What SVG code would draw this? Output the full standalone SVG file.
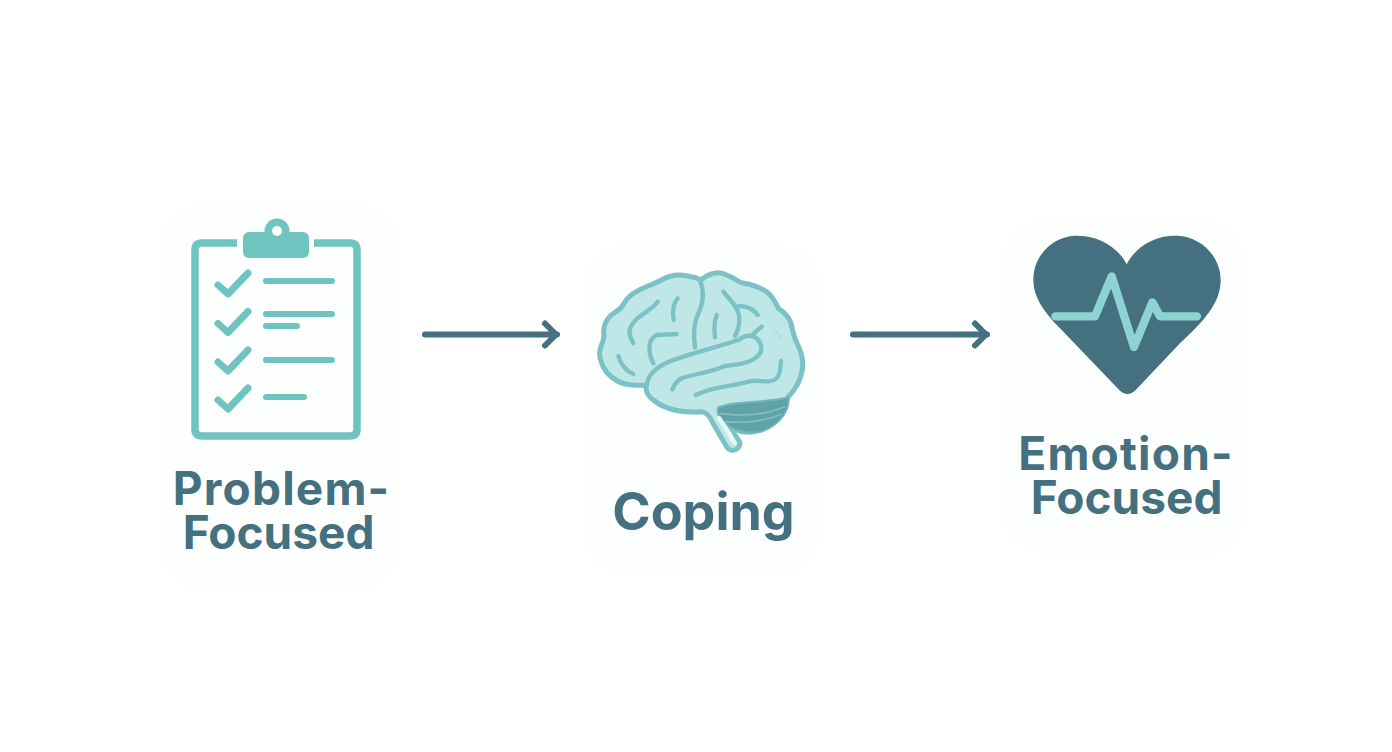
<svg xmlns="http://www.w3.org/2000/svg" width="1392" height="752" viewBox="0 0 1392 752">
<style>
.label{font-family:"Inter","Liberation Sans",sans-serif;font-weight:700;font-size:46px;fill:#44707f;text-anchor:middle}
.wide{letter-spacing:1.200px}
.big{font-size:52px}
.teal{fill:none;stroke:#70c4bf;stroke-linecap:round;stroke-linejoin:round}
.chk{stroke-width:7}
.ln{stroke-width:6}
.conn{stroke:#44707f;stroke-width:6;stroke-linecap:round;fill:none}
.sulcus{fill:none;stroke:#7ac2c6;stroke-width:13;stroke-linecap:round;stroke-linejoin:round}
.halo{fill:#fdfefe}
</style>
<defs>
<marker id="arrow" markerUnits="userSpaceOnUse" markerWidth="24" markerHeight="32" refX="17" refY="16" orient="auto">
<path d="M5,5 L16,16 L5,27" fill="none" stroke="#44707f" stroke-width="6" stroke-linecap="round" stroke-linejoin="round"/>
</marker>
<path id="check" d="M218,285 L228,294 L248,273"/>
</defs>
<rect width="1392" height="752" fill="#fff"/>
<rect class="halo" x="160" y="205" width="240" height="385" rx="40"/>
<rect class="halo" x="585" y="245" width="235" height="330" rx="40"/>
<rect class="halo" x="1005" y="220" width="240" height="335" rx="40"/>
<g id="connectors">
<line class="conn" x1="425" y1="334.500" x2="557" y2="334.500" marker-end="url(#arrow)"/>
<line class="conn" x1="853" y1="334.500" x2="987" y2="334.500" marker-end="url(#arrow)"/>
</g>
<g id="node-problem">
<path d="M237,243 H202 Q195,243 195,250 V429 Q195,436 202,436 H350 Q357,436 357,429 V250 Q357,243 350,243 H314" fill="none" stroke="#70c4bf" stroke-width="7.500" stroke-linecap="butt"/>
<circle cx="277" cy="231" r="12.500" fill="#70c4bf"/>
<rect x="243" y="232" width="66" height="26" rx="6" fill="#70c4bf"/>
<circle cx="277" cy="231" r="5" fill="#fff"/>
<use href="#check" class="teal chk"/>
<use href="#check" class="teal chk" y="38.500"/>
<use href="#check" class="teal chk" y="77"/>
<use href="#check" class="teal chk" y="115"/>
<path class="teal ln" d="M266,281 H332 M266,314 H332 M266,326 H297 M266,360 H332 M266,397 H304"/>
<text class="label wide" x="281.500" y="505">Problem-</text>
<text class="label" x="278.500" y="549">Focused</text>
</g>
<g id="node-coping">
<g transform="translate(585,260) scale(0.3333)">
<path d="M185,375 Q150,378 125,373 Q100,368 80,351 Q60,335 51,312 Q42,290 44,276 Q46,262 52,248 Q58,235 56,220 Q55,205 62,187 Q70,170 90,157 Q110,145 117,130 Q125,115 142,102 Q160,90 182,81 Q205,72 225,62 Q245,50 268,46 Q290,42 318,50 Q335,52 347,60 Q365,45 385,40 Q405,36 420,43 Q440,50 460,63 Q470,70 490,72 Q540,85 558,108 Q572,125 580,145 Q610,165 618,190 Q625,225 635,248 Q658,290 652,330 Q645,375 610,410 C600,450 565,500 510,514 C475,522 445,510 430,498 L464,545 C470,565 440,582 426,562 L384,490 C376,470 365,458 350,455 C300,460 240,450 205,420 C185,405 180,390 185,375 Z" fill="#c0e7e7" stroke="#7ac2c6" stroke-width="15" stroke-linejoin="round"/>
<path d="M400,442 C450,420 530,432 610,412 C615,450 585,495 530,515 C490,525 440,510 415,485 C400,470 395,455 400,442 Z" fill="#5fa3a9" stroke="#6fb5ba" stroke-width="6"/>
<path d="M405,460 C470,470 540,465 600,440 M420,485 C470,490 540,485 590,462" fill="none" stroke="#86bfc2" stroke-width="5"/>
<path d="M402,475 L432,520 L448,548" fill="none" stroke="#e6f7f7" stroke-width="14" stroke-linecap="round"/>
<path class="sulcus" d="M185,375 C190,335 230,310 280,295 C340,275 400,260 460,240 C500,210 535,240 528,275 C515,305 460,315 420,318 C370,340 310,345 290,355 C275,362 268,375 262,388"/>
<path class="sulcus" d="M345,60 C360,100 355,130 340,160 C325,190 325,225 330,262"/>
<path class="sulcus" d="M205,310 C190,280 185,240 215,225 L275,222"/>
<path class="sulcus" d="M415,95 C435,120 455,135 462,165 C465,190 460,210 450,228 M455,140 C480,135 505,145 518,165 M505,222 L530,200"/>
<path class="sulcus" d="M395,165 C385,190 388,215 390,232 M278,115 C265,130 262,155 266,180 M218,125 C200,155 150,165 135,205 C130,225 138,235 145,250 M100,288 C105,310 125,335 145,342 M333,405 C380,380 440,380 490,365 C520,355 550,375 575,355 C590,335 585,320 588,303"/>
<path d="M568,210 C580,218 585,225 585,235" fill="none" stroke="#aedddd" stroke-width="5" stroke-linecap="round"/>
</g>
<text class="label big" x="703.500" y="530">Coping</text>
</g>
<g id="node-emotion">
<g transform="translate(1020,225) scale(0.3333)">
<path d="M320,118 C350,60 410,30 470,32 C550,35 602,100 602,165 C602,235 550,290 480,355 L345,497 Q322,518 300,497 L120,310 C70,260 40,215 40,165 C40,90 100,32 170,32 C230,32 290,60 320,118 Z" fill="#44707f"/>
<path d="M106,274 H225 L275,154 L342,366 L397,232 L420,274 H531" fill="none" stroke="#8ed3d4" stroke-width="25" stroke-linecap="round" stroke-linejoin="round"/>
</g>
<text class="label wide" x="1126" y="470">Emotion-</text>
<text class="label" x="1126.500" y="514">Focused</text>
</g>
</svg>
